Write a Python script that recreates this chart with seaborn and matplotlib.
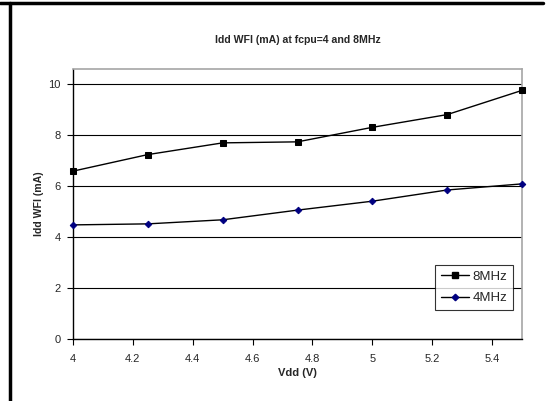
import pandas as pd
import seaborn as sns
import matplotlib.pyplot as plt
from matplotlib.lines import Line2D

vdd = [4, 4.25, 4.5, 4.75, 5, 5.25, 5.5]
idd_8mhz = [6.59, 7.24, 7.70, 7.74, 8.31, 8.81, 9.76]
idd_4mhz = [4.48, 4.52, 4.68, 5.06, 5.41, 5.85, 6.09]
series = ['8MHz', '4MHz']

df = pd.DataFrame({
    'Vdd (V)': vdd * 2,
    'Idd WFI (mA)': idd_8mhz + idd_4mhz,
    'freq': ['8MHz'] * len(vdd) + ['4MHz'] * len(vdd),
})

sns.set_style('white')
plt.rcParams['font.family'] = ['Liberation Sans', 'DejaVu Sans']

fig = plt.figure(figsize=(5.48, 4.01), dpi=100)
ax = fig.add_axes([73 / 548, 1 - 339 / 401, 449 / 548, 270 / 401])

sns.lineplot(data=df, x='Vdd (V)', y='Idd WFI (mA)', hue='freq', style='freq',
             hue_order=series, style_order=series,
             palette={'8MHz': 'black', '4MHz': 'black'},
             markers={'8MHz': 's', '4MHz': 'D'}, dashes=False,
             linewidth=1, ax=ax, legend=False)

# marker styling per series
for line, name in zip(ax.lines, series):
    line.set_clip_on(False)
    line.set_zorder(5)
    if name == '8MHz':
        line.set_markerfacecolor('black')
        line.set_markeredgecolor('black')
        line.set_markersize(4.6)
    else:
        line.set_markerfacecolor('#000080')
        line.set_markeredgecolor('#000080')
        line.set_markersize(3.3)

ax.set_xlim(4, 5.5)
ax.set_ylim(0, 10.6)
ax.set_xticks([4, 4.2, 4.4, 4.6, 4.8, 5, 5.2, 5.4])
ax.set_xticklabels(['4', '4.2', '4.4', '4.6', '4.8', '5', '5.2', '5.4'])
ax.set_yticks([0, 2, 4, 6, 8, 10])
ax.yaxis.grid(True, color='black', linewidth=0.8)
ax.set_axisbelow(True)
ax.tick_params(axis='both', direction='out', length=4, width=0.8, color='black',
               labelsize=8, left=True, bottom=True)
ax.tick_params(axis='x', pad=7)
ax.tick_params(axis='y', pad=5)

for side in ['left', 'bottom']:
    ax.spines[side].set_color('black')
    ax.spines[side].set_linewidth(1)
for side in ['top', 'right']:
    ax.spines[side].set_color('#a6a6a6')
    ax.spines[side].set_linewidth(1.2)

ax.set_title('Idd WFI (mA) at fcpu=4 and 8MHz', fontsize=7.6, fontweight='bold', pad=19)
ax.set_xlabel('Vdd (V)', fontsize=8, fontweight='bold', labelpad=3)
ax.set_ylabel('Idd WFI (mA)', fontsize=7.6, fontweight='bold', labelpad=3)

handles = [
    Line2D([], [], color='black', lw=1, marker='s', markersize=4.6,
           markerfacecolor='black', markeredgecolor='black'),
    Line2D([], [], color='black', lw=1, marker='D', markersize=3.3,
           markerfacecolor='#000080', markeredgecolor='#000080'),
]
leg = ax.legend(handles, series, loc='lower right', bbox_to_anchor=(0.98, 0.107),
                frameon=True, fancybox=False, fontsize=9.5, handlelength=2.1,
                handletextpad=0.25, borderpad=0.45, labelspacing=0.7,
                borderaxespad=0)
leg.get_frame().set_edgecolor('black')
leg.get_frame().set_linewidth(0.8)

# outer frame lines of the original document
fig.add_artist(Line2D([0, 543 / 548], [1 - 3 / 401, 1 - 3 / 401],
                      color='black', lw=2.5, transform=fig.transFigure))
fig.add_artist(Line2D([10 / 548, 10 / 548], [0, 1 - 3 / 401],
                      color='black', lw=2.5, transform=fig.transFigure))

fig.savefig('out.png', dpi=100)
